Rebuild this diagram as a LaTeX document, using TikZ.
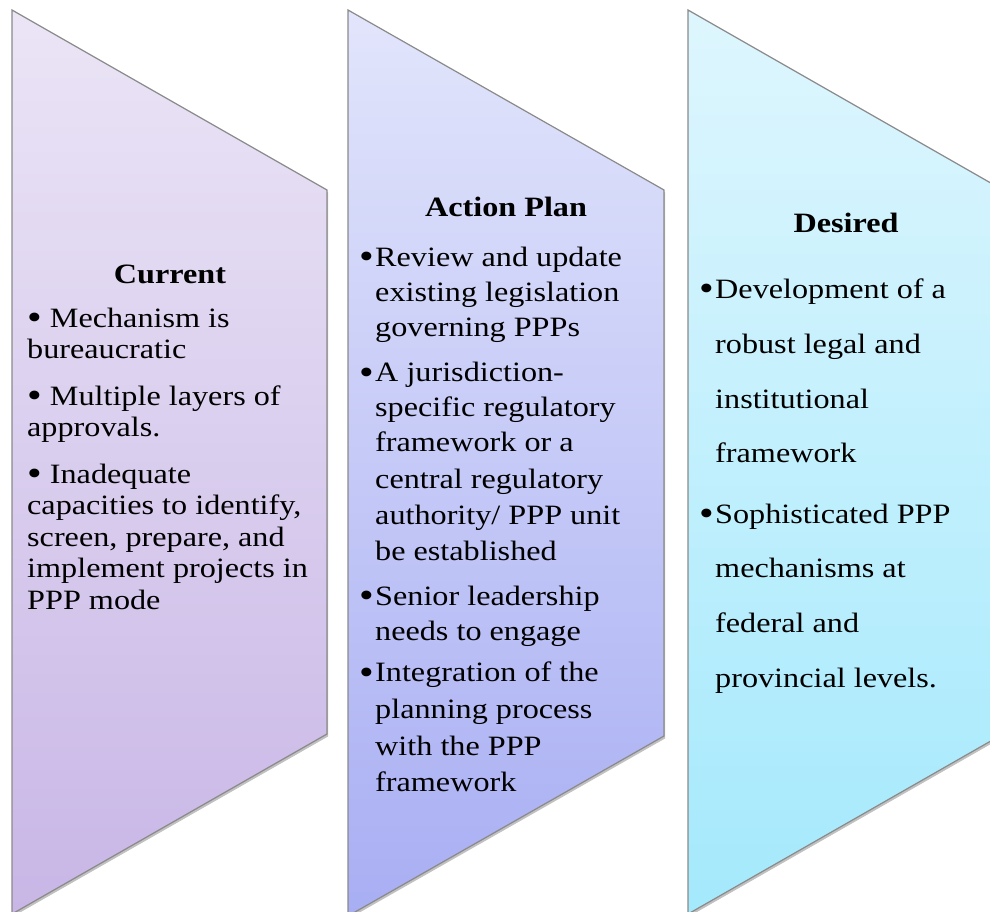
\documentclass[tikz,border=0pt]{standalone}
\usepackage{fontspec}
\setmainfont{Liberation Serif}[FakeStretch=1.15]
\usetikzlibrary{shadows}
\definecolor{aTop}{HTML}{EBE5F6}
\definecolor{aBot}{HTML}{C8B6E6}
\definecolor{bTop}{HTML}{E2E5FB}
\definecolor{bBot}{HTML}{A8AEF3}
\definecolor{cTop}{HTML}{DEF6FE}
\definecolor{cBot}{HTML}{A4E9FC}
\definecolor{edge}{HTML}{8A8A8A}
\tikzset{
  panel/.style={draw=edge, line width=1.2pt, line join=miter,
    drop shadow={shadow xshift=1pt, shadow yshift=-2.5pt, opacity=0.35, fill=black!70}},
  txt/.style={anchor=base west, inner sep=0pt, font=\fontsize{28}{30}\selectfont},
  head/.style={anchor=base, inner sep=0pt, font=\bfseries\fontsize{28}{30}\selectfont},
}
\newcommand{\bigbul}{\raisebox{-2.6pt}{\scalebox{1.3}{\textbullet}}}
\newcommand{\bul}{\llap{\bigbul\hspace{1.5pt}}}
\begin{document}
\begin{tikzpicture}[x=1pt,y=-1pt]
\useasboundingbox (0,0) rectangle (990,912);
\clip (0,0) rectangle (990,912);
% panels
\path[panel, top color=aTop, bottom color=aBot] (12,10) -- (327,190) -- (327,734) -- (12,914) -- cycle;
\path[panel, top color=bTop, bottom color=bBot] (348,10) -- (664,190) -- (664,736) -- (348,916) -- cycle;
\path[panel, top color=cTop, bottom color=cBot] (688,10) -- (1003,190) -- (1003,734) -- (688,914) -- cycle;

% Current
\node[head] (h1) at (170,283) {Current};
\node[txt] (a1) at (27,327) {\bigbul\ Mechanism is};
\node[txt] (a2) at (27,358.6) {bureaucratic};
\node[txt] (a3) at (27,405) {\bigbul\ Multiple layers of};
\node[txt] (a4) at (27,436.6) {approvals.};
\node[txt] (a5) at (27,483) {\bigbul\ Inadequate};
\node[txt] (a6) at (27,514.6) {capacities to identify,};
\node[txt] (a7) at (27,546.2) {screen, prepare, and};
\node[txt] (a8) at (27,577.8) {implement projects in};
\node[txt] (a9) at (27,609.4) {PPP mode};

% Action Plan
\node[head] (h2) at (506,216) {Action Plan};
\node[txt] (b1) at (375,266) {\bul Review and update};
\node[txt] (b2) at (375,301) {existing legislation};
\node[txt] (b3) at (375,336.5) {governing PPPs};
\node[txt] (b4) at (375,381.5) {\bul A jurisdiction-};
\node[txt] (b5) at (375,416) {specific regulatory};
\node[txt] (b6) at (375,451.5) {framework or a};
\node[txt] (b7) at (375,488) {central regulatory};
\node[txt] (b8) at (375,524) {authority/ PPP unit};
\node[txt] (b9) at (375,560) {be established};
\node[txt] (b10) at (375,605) {\bul Senior leadership};
\node[txt] (b11) at (375,640.5) {needs to engage};
\node[txt] (b12) at (375,681.5) {\bul Integration of the};
\node[txt] (b13) at (375,718) {planning process};
\node[txt] (b14) at (375,755) {with the PPP};
\node[txt] (b15) at (375,791) {framework};

% Desired
\node[head] (h3) at (846,232) {Desired};
\node[txt] (c1) at (715,298) {\bul Development of a};
\node[txt] (c2) at (715,353) {robust legal and};
\node[txt] (c3) at (715,408) {institutional};
\node[txt] (c4) at (715,462) {framework};
\node[txt] (c5) at (715,523) {\bul Sophisticated PPP};
\node[txt] (c6) at (715,577) {mechanisms at};
\node[txt] (c7) at (715,632) {federal and};
\node[txt] (c8) at (715,687) {provincial levels.};
\end{tikzpicture}
\end{document}
